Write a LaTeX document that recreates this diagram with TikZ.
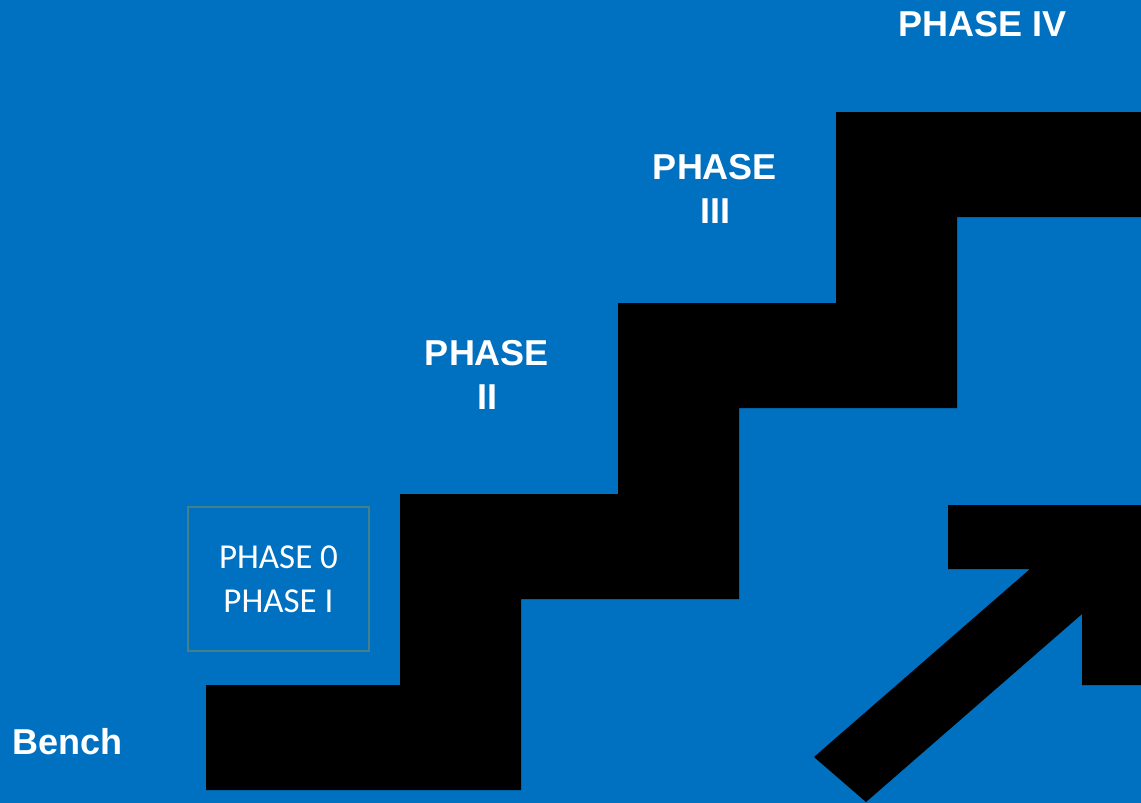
\documentclass[tikz,border=0pt]{standalone}
\usepackage{fontspec}
\setmainfont{Liberation Sans}
\newfontfamily\calibri{Carlito}
\usetikzlibrary{positioning}
\definecolor{slideblue}{RGB}{0,112,192}
\definecolor{boxteal}{RGB}{68,128,140}

\begin{document}
\begin{tikzpicture}[x=1pt, y=-1pt,
    phase/.style={
        text=white, align=center, inner sep=0pt,
        font=\fontsize{36}{44}\selectfont\bfseries
    },
    boxtext/.style={
        text=white, align=center,
        font=\calibri\fontsize{35}{44}\selectfont
    }
]
    \fill[slideblue] (0,0) rectangle (1141,803);
    \useasboundingbox (0,0) rectangle (1141,803);

    % staircase
    \fill[black] (206,790) -- (206,685) -- (400,685) -- (400,494) -- (618,494)
        -- (618,303) -- (836,303) -- (836,112) -- (1141,112) -- (1141,217)
        -- (957,217) -- (957,408) -- (739,408) -- (739,599) -- (521,599)
        -- (521,790) -- cycle;

    % arrow
    \fill[black] (948,505) -- (1141,505) -- (1141,685) -- (1082,685) -- (1082,614)
        -- (866,802) -- (814,757) -- (1030,569) -- (948,569) -- cycle;

    \node[boxtext, draw=boxteal, line width=1.5pt, minimum width=181pt,
          minimum height=144pt] (P01) at (278.5,579) {PHASE 0\\PHASE I};

    \node[phase, anchor=west] (bench) at (12,742) {Bench};
    \node[phase] (P2) at (487,375) {PHASE\\II};
    \node[phase] (P3) at (715,189) {PHASE\\III};
    \node[phase] (P4) at (983,24)  {PHASE IV};
\end{tikzpicture}
\end{document}
